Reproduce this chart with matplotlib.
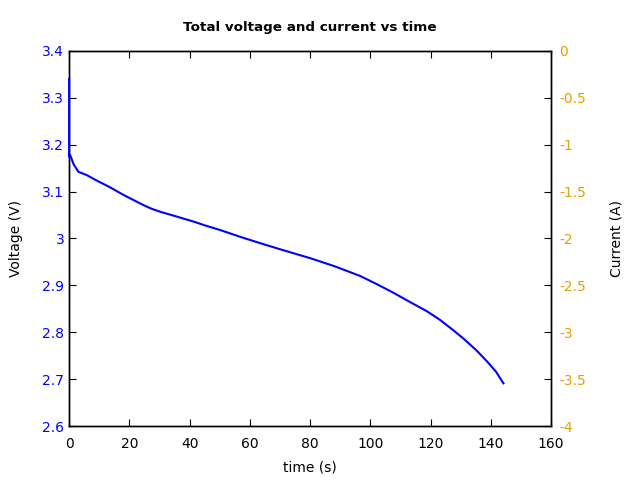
import numpy as np
import matplotlib.pyplot as plt
from matplotlib.ticker import FormatStrFormatter

plt.rcParams['axes.unicode_minus'] = False

# voltage curve
time_s = [0, 0, 0.33, 1.5, 3.1, 5.9, 9.0, 13.6, 18.0, 24.7, 27.5, 30.2, 35.0,
          41.3, 45.0, 50.1, 57.0, 63.4, 70.0, 80.0, 88.0, 96.6, 102.0, 107.7,
          113.0, 118.7, 123.0, 127.6, 131.0, 135.3, 139.0, 141.7, 144.2]
voltage = [3.34, 3.174, 3.178, 3.158, 3.142, 3.135, 3.124, 3.109, 3.093, 3.071,
           3.063, 3.057, 3.048, 3.036, 3.028, 3.018, 3.003, 2.990, 2.977, 2.958,
           2.941, 2.920, 2.903, 2.884, 2.865, 2.845, 2.827, 2.804, 2.786, 2.761,
           2.736, 2.716, 2.691]

x_ticks = [0, 20, 40, 60, 80, 100, 120, 140, 160]
v_ticks = [2.6, 2.7, 2.8, 2.9, 3.0, 3.1, 3.2, 3.3, 3.4]
i_ticks = [-4, -3.5, -3, -2.5, -2, -1.5, -1, -0.5, 0]

orange = '#e69f00'

fig = plt.figure(figsize=(6.4, 4.8), dpi=100)
ax = fig.add_axes([0.108, 0.1125, 0.753, 0.7815])
ax.plot(time_s, voltage, color='b', lw=1.5, clip_on=False, zorder=5)
ax.set_xlim(0, 160)
ax.set_ylim(2.6, 3.4)
ax.set_xticks(x_ticks)
ax.set_yticks(v_ticks)
ax.yaxis.set_major_formatter(FormatStrFormatter('%g'))
ax.tick_params(direction='in', length=5, top=True, labelsize=10)
ax.tick_params(axis='y', labelcolor='b', right=False)
ax.tick_params(axis='x', pad=8)
ax.set_xlabel('time (s)', labelpad=7)
ax.set_ylabel('Voltage (V)', labelpad=14)
ax.set_title('Total voltage and current vs time', fontweight='bold', fontsize=9.7, pad=14)

ax2 = ax.twinx()
ax2.set_ylim(-4, 0)
ax2.set_yticks(i_ticks)
ax2.yaxis.set_major_formatter(FormatStrFormatter('%g'))
ax2.tick_params(direction='in', length=5, labelcolor=orange, labelsize=10, pad=6)
ax2.set_ylabel('Current (A)', labelpad=17)
ax.set_zorder(ax2.get_zorder() + 1)
ax.patch.set_visible(False)

for a in (ax, ax2):
    for s in a.spines.values():
        s.set_color('black')
        s.set_linewidth(1.0)

fig.savefig('out.png', dpi=100)
